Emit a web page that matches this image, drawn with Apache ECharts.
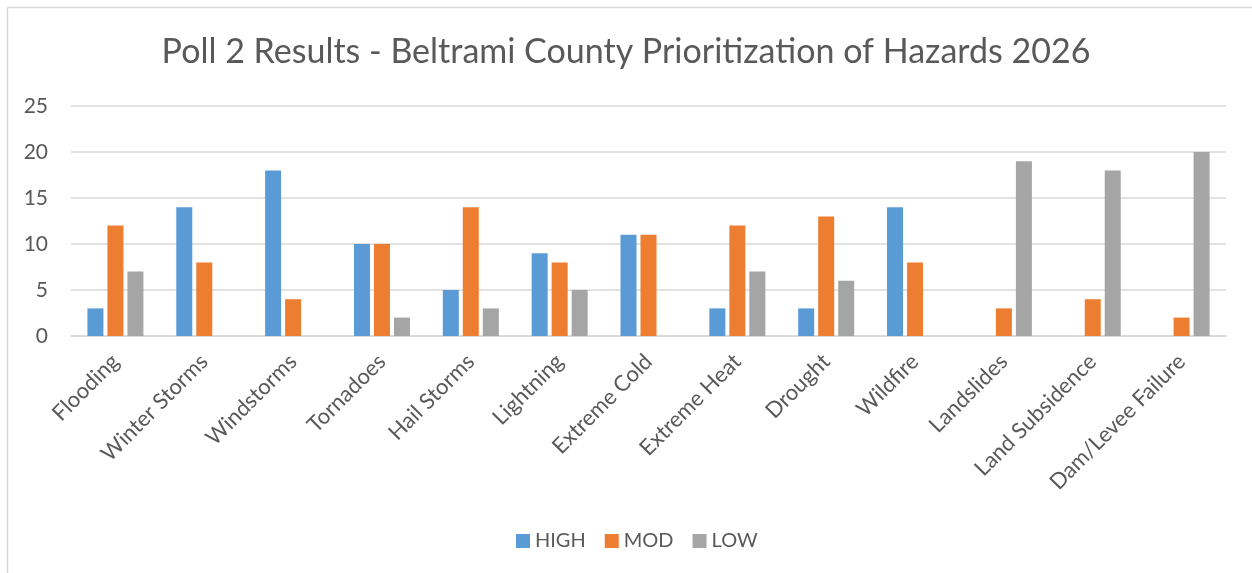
<!DOCTYPE html>
<html><head><meta charset="utf-8">
<script src="https://cdn.jsdelivr.net/npm/echarts@6/dist/echarts.min.js"></script>
<style>html,body{margin:0;padding:0;background:#fff}#c{width:1252px;height:573px}</style>
</head><body><div id="c"></div>
<script>
const titleText = 'Poll 2 Results - Beltrami County Prioritization of Hazards 2026';
const categories = ['Flooding','Winter Storms','Windstorms','Tornadoes','Hail Storms','Lightning','Extreme Cold','Extreme Heat','Drought','Wildfire','Landslides','Land Subsidence','Dam/Levee Failure'];
const seriesNames = ['HIGH','MOD','LOW'];
const high = [3,14,18,10,5,9,11,3,3,14,0,0,0];
const mod  = [12,8,4,10,14,8,11,12,13,8,3,4,2];
const low  = [7,0,0,2,3,5,0,7,6,0,19,18,20];
const colors = ['#5B9BD5','#ED7D31','#A5A5A5'];
const FONT = 'Lato';
const chart = echarts.init(document.getElementById('c'), null, {renderer:'canvas'});
const mk = (name, data, color) => ({
  name, type:'bar', data, barWidth:16, barGap:'25%',
  itemStyle:{color},
  emphasis:{disabled:true}
});
chart.setOption({
  animation:false,
  textStyle:{fontFamily:FONT},
  title:{text:titleText, left:'center', top:30,
    textStyle:{fontFamily:FONT, fontSize:34, fontWeight:'normal', color:'#595959'}},
  legend:{bottom:17, left:511, itemWidth:14, itemHeight:14, itemGap:19,
    icon:'rect', textStyle:{fontFamily:FONT, fontSize:20, color:'#595959'}, data:seriesNames},
  grid:{left:71, right:26, top:106, bottom:237, containLabel:false},
  xAxis:{type:'category', data:categories,
    axisLine:{lineStyle:{color:'#d9d9d9', width:1.5}}, axisTick:{show:false},
    axisLabel:{interval:0, rotate:45, color:'#595959', fontSize:22, fontFamily:FONT, margin:22}},
  yAxis:{type:'value', min:0, max:25, interval:5,
    axisLine:{show:false}, axisTick:{show:false},
    splitLine:{lineStyle:{color:'#d9d9d9', width:1.5}},
    axisLabel:{color:'#595959', fontSize:21, fontFamily:FONT, margin:23}},
  graphic:[
    {type:'line', shape:{x1:7.5,y1:7.5,x2:7.5,y2:573}, style:{stroke:'#d9d9d9', lineWidth:1.5}},
    {type:'line', shape:{x1:7.5,y1:7.5,x2:1252,y2:7.5}, style:{stroke:'#d9d9d9', lineWidth:1.5}}
  ],
  series:[mk(seriesNames[0],high,colors[0]), mk(seriesNames[1],mod,colors[1]), mk(seriesNames[2],low,colors[2])]
});
</script></body></html>
